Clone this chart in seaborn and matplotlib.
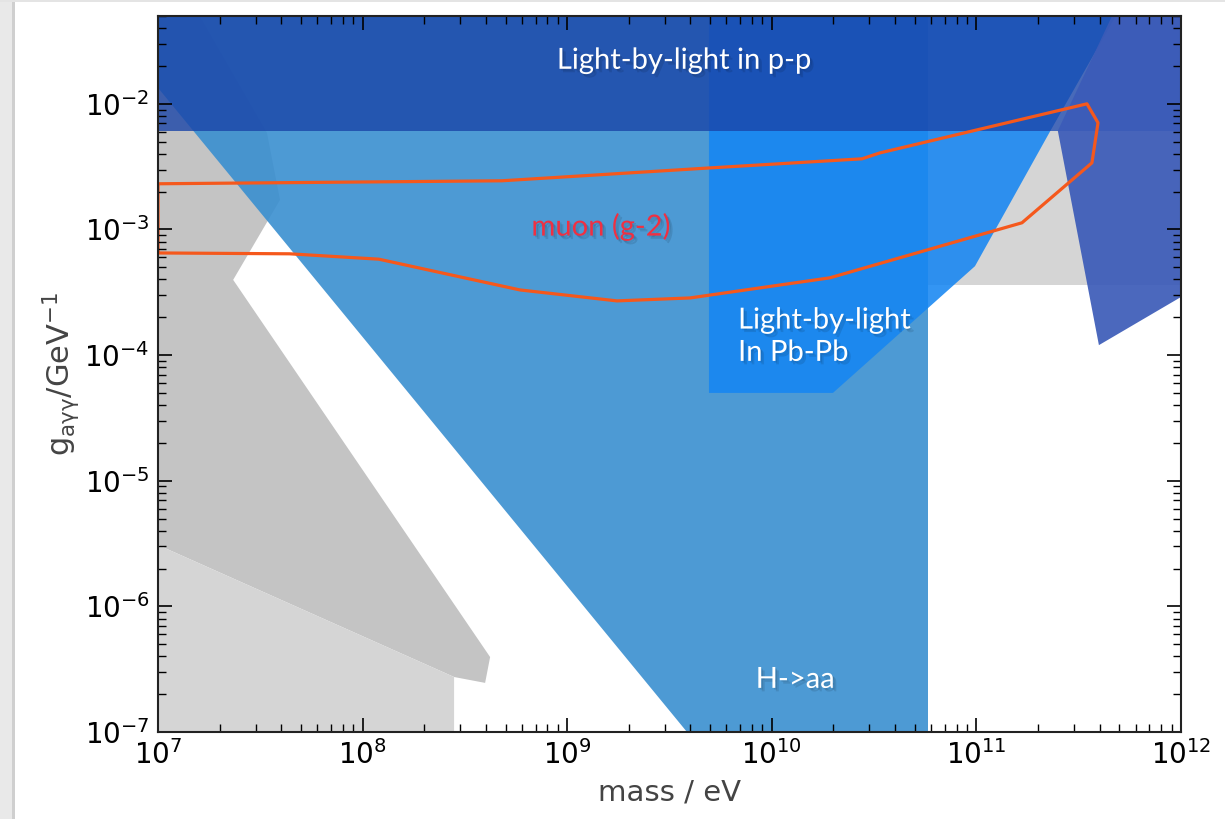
import matplotlib
matplotlib.use("Agg")
import matplotlib.pyplot as plt
import matplotlib.patheffects as pe
from matplotlib.patches import Rectangle
import seaborn as sns
import pandas as pd

# ---------------- data (mass in eV, coupling in GeV^-1) ----------------
pp_mass = [1e7, 1e12, 1e12, 1e7]
pp_g = [6.1e-3, 6.1e-3, 5e-2, 5e-2]

haa_mass = [1e7, 1e7, 3.85e9, 5.8e10, 5.8e10]
haa_g = [5e-2, 1.34e-2, 1e-7, 1e-7, 5e-2]

pbpb_mass = [4.93e9, 4.93e9, 1.99e10, 9.84e10, 2.3e11, 4.8e11]
pbpb_g = [5e-2, 5e-5, 5e-5, 5.1e-4, 6.1e-3, 5e-2]

dump_mass = [1e7, 1e7, 2.8e8, 2.8e8]
dump_g = [1e-7, 3.08e-6, 2.74e-7, 1e-7]

dark_grey_mass = [1e7, 1.6e7, 3.41e7, 3.95e7, 2.33e7, 4.2e8, 3.97e8, 2.8e8, 1e7]
dark_grey_g = [5e-2, 5e-2, 5.88e-3, 1.72e-3, 3.97e-4, 3.95e-7, 2.46e-7, 2.74e-7, 3.08e-6]

lep_mass = [5.8e10, 1e12, 1e12, 5.8e10]
lep_g = [3.62e-4, 3.62e-4, 6.1e-3, 6.1e-3]

slate_mass = [4.6e11, 2.5e11, 3.97e11, 1e12, 1e12]
slate_g = [5e-2, 6.1e-3, 1.2e-4, 2.9e-4, 5e-2]

muon_mass = [1e7, 4.4e7, 1.2e8, 5.88e8, 1.75e9, 3.98e9, 1.92e10, 1.67e11,
             3.67e11, 3.93e11, 3.47e11, 3.38e10, 2.76e10, 5.0e9, 4.8e8, 1e7]
muon_g = [6.5e-4, 6.4e-4, 5.8e-4, 3.3e-4, 2.7e-4, 2.85e-4, 4.12e-4, 1.13e-3,
          3.39e-3, 7.06e-3, 1.0e-2, 4.07e-3, 3.65e-3, 3.09e-3, 2.44e-3, 2.31e-3]

labels = ["Light-by-light in p-p", "muon (g-2)", "Light-by-light\nIn Pb-Pb", "H->aa"]
label_mass = [3.72e9, 1.46e9, 6.84e9, 1.3e10]
label_g = [2.2e-2, 1.05e-3, 1.4e-4, 2.6e-7]

# ---------------- figure ----------------
sns.set_style("ticks")
plt.rcParams["font.family"] = ["DejaVu Sans"]
plt.rcParams["mathtext.default"] = "regular"

fig = plt.figure(figsize=(12.25, 8.19), dpi=100)
fig.patch.set_facecolor("white")
ax = fig.add_axes([158 / 1225, 1 - 732 / 819, (1181 - 158) / 1225, (732 - 16) / 819])

# screenshot-card shadow on the left/top edges
fig.patches.append(Rectangle((0, 0), 12 / 1225, 1, transform=fig.transFigure,
                             facecolor="#e9e9e9", edgecolor="none", zorder=0))
fig.patches.append(Rectangle((12 / 1225, 0), 3 / 1225, 1, transform=fig.transFigure,
                             facecolor="#cfcfcf", edgecolor="none", zorder=0))
fig.patches.append(Rectangle((0, 1 - 2 / 819), 1, 2 / 819, transform=fig.transFigure,
                             facecolor="#e4e4e4", edgecolor="none", zorder=0))

ax.fill(dark_grey_mass, dark_grey_g, color="#c4c4c4", lw=0, zorder=1.0)
ax.fill(dump_mass, dump_g, color="#d5d5d5", lw=0, zorder=1.05)
ax.fill(lep_mass, lep_g, color="#d5d5d5", lw=0, zorder=1.05)
ax.fill(haa_mass, haa_g, color="#3a8fd0", alpha=0.9, lw=0, zorder=1.1)
ax.fill(pbpb_mass, pbpb_g, color="#1686f2", alpha=0.88, lw=0, zorder=1.2)
ax.fill(pp_mass, pp_g, color="#1a45a8", alpha=0.8, lw=0, zorder=1.3)
ax.fill(slate_mass, slate_g, color="#3b5bb8", alpha=0.92, lw=0, zorder=1.4)

muon_df = pd.DataFrame({"mass": muon_mass + muon_mass[:1], "g": muon_g + muon_g[:1]})
sns.lineplot(data=muon_df, x="mass", y="g", sort=False, estimator=None,
             color="#f5581c", lw=2.3, ax=ax, zorder=2)

shadow = [pe.SimplePatchShadow(offset=(2.5, -2.5), shadow_rgbFace="black", alpha=0.10),
          pe.SimplePatchShadow(offset=(1.2, -1.2), shadow_rgbFace="black", alpha=0.10),
          pe.Normal()]
label_colors = ["white", "#ef3042", "white", "white"]
label_ha = ["center", "center", "left", "center"]
for txt, xm, yg, c, ha in zip(labels, label_mass, label_g, label_colors, label_ha):
    ax.text(xm, yg, txt, color=c, ha=ha, va="center", fontsize=21,
            family=["Lato", "DejaVu Sans"], linespacing=1.3,
            path_effects=shadow, zorder=3)

ax.set_xscale("log")
ax.set_yscale("log")
ax.set_xlim(1e7, 1e12)
ax.set_ylim(1e-7, 5e-2)
ax.set_axisbelow(False)

ax.set_xlabel("mass / eV", fontsize=21, color="#444444", labelpad=6)
ax.set_ylabel(r"$g_{a\gamma\gamma}$/GeV$^{-1}$", fontsize=22, color="#444444", labelpad=2)

ax.tick_params(which="both", direction="in", top=True, right=True, colors="black")
ax.tick_params(which="major", length=10, width=1.2, labelsize=20, pad=6)
ax.tick_params(which="minor", length=6, width=1.0)
for s in ax.spines.values():
    s.set_linewidth(1.5)
    s.set_color("#222222")
    s.set_zorder(2.6)

fig.savefig("out.png", dpi=100, facecolor="white")
